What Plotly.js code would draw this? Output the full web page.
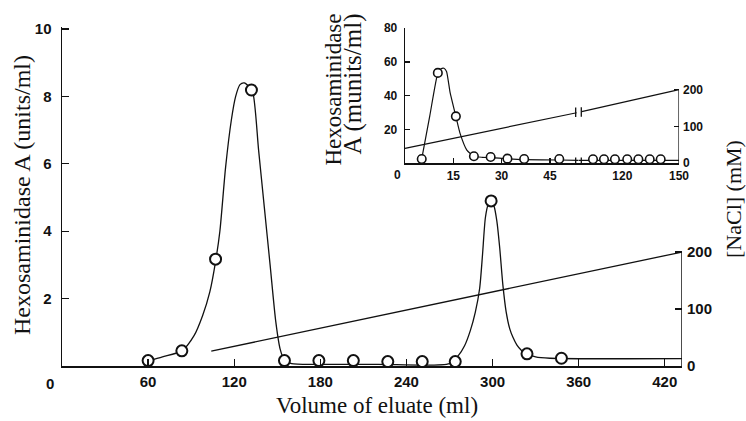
<!DOCTYPE html>
<html>
<head>
<meta charset="utf-8">
<script src="https://cdn.plot.ly/plotly-3.0.1.min.js"></script>
<style>html,body{margin:0;padding:0;background:#fff;}#chart{width:746px;height:421px;}</style>
</head>
<body>
<div id="chart"></div>
<script>
// ---- Main chart data ----
const mainPointsX = [60, 83.5, 107, 132, 155, 179, 203, 227, 251, 274, 299, 324, 348];
const mainPointsY = [0.16, 0.45, 3.17, 8.19, 0.16, 0.16, 0.16, 0.13, 0.13, 0.13, 4.9, 0.36, 0.23];
const mainCurveX = [60, 70, 83.5, 92, 98, 103, 107, 110, 114, 118, 121, 124, 127, 130, 133, 137, 141, 145, 149, 152, 155, 160, 180, 220, 270, 276, 280.5, 284.5, 288, 291, 293, 295, 297, 299, 301, 303, 305, 307.2, 309.5, 312, 314.2, 317, 320, 323, 330, 340, 432];
const mainCurveY = [0.15, 0.27, 0.45, 0.9, 1.5, 2.2, 3.1, 4.0, 5.9, 7.3, 8.0, 8.35, 8.4, 8.3, 8.1, 6.4, 4.7, 3.0, 1.3, 0.5, 0.17, 0.07, 0.05, 0.05, 0.07, 0.3, 0.6, 1.05, 1.6, 2.3, 3.3, 4.4, 4.8, 4.9, 4.75, 4.3, 3.5, 2.4, 1.6, 1.1, 0.85, 0.62, 0.47, 0.38, 0.27, 0.23, 0.22];
const mainNaclX = [104, 432];
const mainNaclY = [26, 200];
const mainXTicks = [60, 120, 180, 240, 300, 360, 420];
const mainYTicks = [2, 4, 6, 8, 10];
const mainNaclTicks = [0, 100, 200];

// ---- Inset data ----
const insetPts1X = [5.2, 10.2, 15.8, 21.4, 26.6, 31.8, 37.0, 47.9];
const insetPts1Y = [2.4, 53.5, 27.7, 4.0, 3.6, 2.6, 2.4, 2.4];
const insetCurve1X = [5.2, 7.7, 10.2, 11.2, 12.1, 12.9, 14, 15.8, 17.1, 19.2, 21.4, 24, 26.6, 31.8, 37, 47.9, 53.8];
const insetCurve1Y = [2.4, 28, 53.5, 56, 56.3, 54.4, 42, 27.7, 17.6, 7.7, 4.0, 3.4, 3.2, 2.5, 2.0, 1.8, 1.6];
const insetPts2X = [104.5, 110.3, 116.1, 122.6, 128.5, 134.5, 140.3];
const insetPts2Y = [2.2, 2.2, 2.2, 2.2, 2.2, 2.2, 2.2];
const insetCurve2X = [96.7, 150];
const insetCurve2Y = [1.6, 1.6];
const insetNacl1X = [0, 53.3];
const insetNacl1Y = [40, 137];
const insetNacl2X = [98.5, 150];
const insetNacl2Y = [140, 200];
const insetXTicks1 = [15, 30, 45];
const insetXTicks2 = [120, 150];
const insetYTicks = [20, 40, 60, 80];
const insetNaclTicks = [0, 100, 200];

const black = '#111';
const tickFont = {family: 'Liberation Sans, Arial, sans-serif', size: 15, color: black, weight: 700};
const smallTickFont = {family: 'Liberation Sans, Arial, sans-serif', size: 12, color: black, weight: 700};
const serif = 'Liberation Serif, Times New Roman, serif';
const titleFont = {family: serif, size: 23, color: black};

const traces = [
  {x: mainCurveX, y: mainCurveY, xaxis: 'x', yaxis: 'y', mode: 'lines',
   line: {color: black, width: 1.3, shape: 'spline', smoothing: 0.7}, hoverinfo: 'skip'},
  {x: mainNaclX, y: mainNaclY, xaxis: 'x', yaxis: 'y2', mode: 'lines',
   line: {color: black, width: 1.3}},
  {x: [mainNaclX[1], mainNaclX[1]], y: [0, 200], xaxis: 'x', yaxis: 'y2', mode: 'lines',
   line: {color: black, width: 1.5}},
  {x: mainPointsX, y: mainPointsY, xaxis: 'x', yaxis: 'y', mode: 'markers',
   marker: {symbol: 'circle', size: 11, color: '#fff', line: {color: black, width: 2}}},
  {x: insetCurve1X, y: insetCurve1Y, xaxis: 'x2', yaxis: 'y3', mode: 'lines',
   line: {color: black, width: 1.2, shape: 'spline', smoothing: 0.5}},
  {x: insetCurve2X, y: insetCurve2Y, xaxis: 'x3', yaxis: 'y3', mode: 'lines',
   line: {color: black, width: 1.2}},
  {x: insetNacl1X, y: insetNacl1Y, xaxis: 'x2', yaxis: 'y4', mode: 'lines',
   line: {color: black, width: 1.2}},
  {x: insetNacl2X, y: insetNacl2Y, xaxis: 'x3', yaxis: 'y4', mode: 'lines',
   line: {color: black, width: 1.2}},
  {x: [150, 150], y: [0, 200], xaxis: 'x3', yaxis: 'y4', mode: 'lines',
   line: {color: black, width: 1.3}},
  {x: insetPts1X, y: insetPts1Y, xaxis: 'x2', yaxis: 'y3', mode: 'markers',
   marker: {symbol: 'circle', size: 8.5, color: '#fff', line: {color: black, width: 1.6}}},
  {x: insetPts2X, y: insetPts2Y, xaxis: 'x3', yaxis: 'y3', mode: 'markers',
   marker: {symbol: 'circle', size: 8.5, color: '#fff', line: {color: black, width: 1.6}}}
];

const yIn = [0.5988, 0.9962];
const layout = {
  width: 746, height: 421,
  margin: {l: 62, r: 64, t: 27, b: 55, pad: 0},
  paper_bgcolor: '#fff', plot_bgcolor: 'rgba(0,0,0,0)',
  showlegend: false,
  xaxis: {domain: [0, 1], range: [0, 432], anchor: 'y', showgrid: false, zeroline: false,
    showline: true, linecolor: black, linewidth: 2, ticks: 'inside', ticklen: 7, tickwidth: 1.3,
    tickcolor: black, tickvals: mainXTicks, tickfont: tickFont, ticklabelstandoff: 1},
  yaxis: {domain: [0, 1], range: [0, 10.06], anchor: 'x', showgrid: false, zeroline: false,
    showline: true, linecolor: black, linewidth: 1.5, ticks: 'inside', ticklen: 7, tickwidth: 1.3,
    tickcolor: black, tickvals: mainYTicks, tickfont: tickFont, ticklabelstandoff: 6},
  yaxis2: {overlaying: 'y', side: 'right', anchor: 'x', range: [0, 595], showgrid: false,
    zeroline: false, showline: false, ticks: 'inside', ticklen: 7, tickwidth: 1.3, tickcolor: black,
    tickvals: mainNaclTicks, tickfont: tickFont, ticklabelstandoff: 4},
  xaxis2: {domain: [0.5532, 0.8327], range: [0, 53.8], anchor: 'y3', showgrid: false, zeroline: false,
    showline: true, linecolor: black, linewidth: 1.5, ticks: 'inside', ticklen: 5, tickwidth: 1.2,
    tickcolor: black, tickvals: insetXTicks1, tickfont: smallTickFont, ticklabelstandoff: 1},
  xaxis3: {domain: [0.8327, 0.9952], range: [96.7, 150], anchor: 'y3', showgrid: false, zeroline: false,
    showline: true, linecolor: black, linewidth: 1.5, ticks: '', tickvals: insetXTicks2,
    tickfont: smallTickFont, ticklabelstandoff: 1},
  yaxis3: {domain: yIn, range: [0, 80], anchor: 'x2', showgrid: false, zeroline: false,
    showline: true, linecolor: black, linewidth: 1.3, ticks: 'inside', ticklen: 5, tickwidth: 1.2,
    tickcolor: black, tickvals: insetYTicks, tickfont: smallTickFont, ticklabelstandoff: 4},
  yaxis4: {domain: yIn, overlaying: 'y3', side: 'right', anchor: 'x3', range: [0, 367],
    showgrid: false, zeroline: false, showline: false, ticks: 'inside', ticklen: 5, tickwidth: 1.2,
    tickcolor: black, tickvals: insetNaclTicks, tickfont: smallTickFont, ticklabelstandoff: 3},
  shapes: [
    {type: 'line', xref: 'x2 domain', yref: 'y3', x0: 0.985, x1: 0.985, y0: -3.3, y1: 3.3, line: {color: black, width: 1.3}},
    {type: 'line', xref: 'x3 domain', yref: 'y3', x0: 0.03, x1: 0.03, y0: -3.3, y1: 3.3, line: {color: black, width: 1.3}},
    {type: 'line', xref: 'x2 domain', yref: 'y4', x0: 0.985, x1: 0.985, y0: 125, y1: 151, line: {color: black, width: 1.3}},
    {type: 'line', xref: 'x3 domain', yref: 'y4', x0: 0.03, x1: 0.03, y0: 126, y1: 152, line: {color: black, width: 1.3}}
  ],
  annotations: [
    {text: 'Volume of eluate (ml)', xref: 'paper', yref: 'paper', x: (377 - 62) / 620, y: (366 - 406) / 339,
     xanchor: 'center', yanchor: 'middle', showarrow: false, font: titleFont},
    {text: 'Hexosaminidase A (units/ml)', xref: 'paper', yref: 'paper', x: (22 - 62) / 620, y: (366 - 195) / 339,
     xanchor: 'center', yanchor: 'middle', textangle: -90, showarrow: false, font: {family: serif, size: 24, color: black}},
    {text: '[NaCl] (mM)', xref: 'paper', yref: 'paper', x: (733 - 62) / 620, y: (366 - 199) / 339,
     xanchor: 'center', yanchor: 'middle', textangle: -90, showarrow: false, font: {family: serif, size: 22, color: black}},
    {text: 'Hexosaminidase', xref: 'paper', yref: 'paper', x: (333.5 - 62) / 620, y: (366 - 90) / 339,
     xanchor: 'center', yanchor: 'middle', textangle: -90, showarrow: false, font: titleFont},
    {text: 'A (munits/ml)', xref: 'paper', yref: 'paper', x: (352 - 62) / 620, y: (366 - 84.5) / 339,
     xanchor: 'center', yanchor: 'middle', textangle: -90, showarrow: false, font: {family: serif, size: 25, color: black}},
    {text: '0', xref: 'paper', yref: 'paper', x: (50 - 62) / 620, y: (366 - 383) / 339,
     xanchor: 'center', yanchor: 'middle', showarrow: false, font: tickFont},
    {text: '0', xref: 'paper', yref: 'paper', x: (397 - 62) / 620, y: (366 - 175) / 339,
     xanchor: 'center', yanchor: 'middle', showarrow: false, font: smallTickFont}
  ]
};

Plotly.newPlot('chart', traces, layout, {displayModeBar: false, staticPlot: true});
</script>
</body>
</html>
